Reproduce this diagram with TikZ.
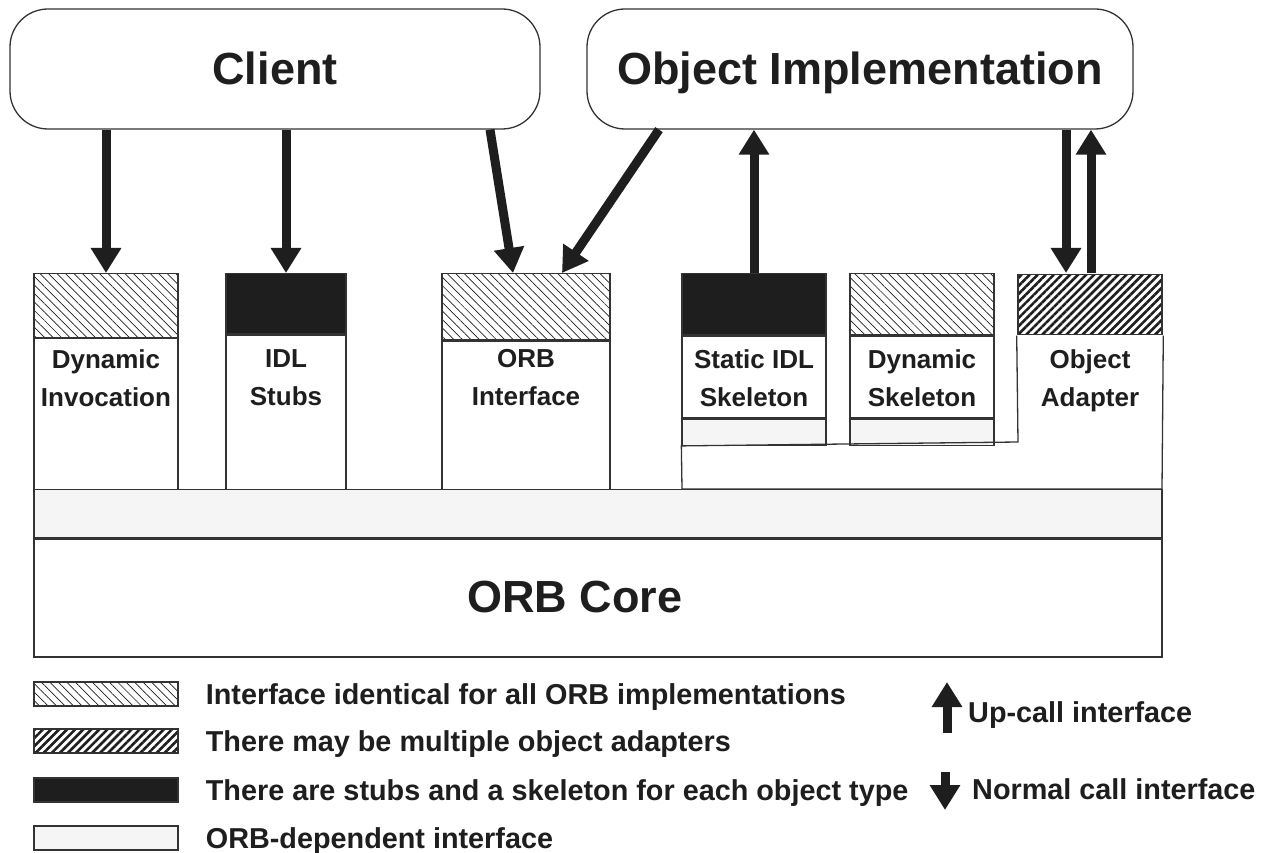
\documentclass[tikz,border=0pt]{standalone}
\usepackage{fontspec}
\setmainfont{Liberation Sans}
\usetikzlibrary{arrows.meta,patterns.meta}
\definecolor{ink}{HTML}{1E1E1E}
\definecolor{edge}{HTML}{333333}
\definecolor{orbdep}{HTML}{F5F5F5}

\tikzset{
  part/.style={draw=edge,line width=1.3pt,rectangle,inner sep=0pt,anchor=north},
  interfacefill/.style={pattern={Lines[angle=-45,distance=6pt,line width=0.7pt]},pattern color=ink},
  adapterfill/.style={pattern={Lines[angle=45,distance=5.7pt,line width=2.6pt]},pattern color=ink},
  stubfill/.style={fill=ink},
  orbfill/.style={fill=orbdep},
  bigtext/.style={text=ink,font=\fontsize{45}{45}\selectfont\bfseries,text height=32pt,text depth=0pt},
  party/.style={draw=edge,line width=1.3pt,rounded corners=38pt,inner sep=0pt,bigtext},
  partlabel/.style={anchor=north,inner sep=0pt,align=center,text=ink,
    font=\fontsize{26}{38}\selectfont\bfseries},
  legendtext/.style={anchor=west,inner sep=0pt,text=ink,text height=20pt,text depth=0pt,
    font=\fontsize{28.8}{30}\selectfont\bfseries},
  call/.style={line width=9pt,draw=ink,-{Triangle[width=29pt,length=25pt]}},
}

\begin{document}
\begin{tikzpicture}[x=1pt,y=-1pt]
\fill[white] (0,0) rectangle (1272,853);
\useasboundingbox (0,0) rectangle (1272,853);

\node[party,minimum width=530pt,minimum height=120pt] (client) at (275,69) {Client};
\node[party,minimum width=546pt,minimum height=120pt] (impl) at (860,69) {Object Implementation};

% client side
\node[part,interfacefill,minimum width=144pt,minimum height=64pt] (dinvhead) at (106,273) {};
\node[part,minimum width=144pt,minimum height=152pt] (dinv) at (dinvhead.south) {};
\node[partlabel] (dinvtext) at (106,349) {Dynamic\\Invocation};

\node[part,stubfill,minimum width=120pt,minimum height=60pt] (stubhead) at (286,273) {};
\node[part,minimum width=120pt,minimum height=156pt] (stub) at (stubhead.south) {};
\node[partlabel] (stubtext) at (286,349) {IDL\\Stubs};

\node[part,interfacefill,minimum width=168pt,minimum height=66pt] (orbhead) at (526,273) {};
\node[part,minimum width=168pt,minimum height=150pt] (orbi) at (orbhead.south) {};
\node[partlabel] (orbitext) at (526,349) {ORB\\Interface};

% implementation side
\node[part,stubfill,minimum width=144pt,minimum height=61pt] (skelhead) at (754,273) {};
\node[part,minimum width=144pt,minimum height=82pt] (skel) at (skelhead.south) {};
\node[part,orbfill,minimum width=144pt,minimum height=26pt] (skelfoot) at (skel.south) {};
\node[partlabel] (skeltext) at (754,349) {Static IDL\\Skeleton};

\node[part,interfacefill,minimum width=144pt,minimum height=61pt] (dskelhead) at (922,273) {};
\node[part,minimum width=144pt,minimum height=82pt] (dskel) at (dskelhead.south) {};
\node[part,orbfill,minimum width=144pt,minimum height=26pt] (dskelfoot) at (dskel.south) {};
\node[partlabel] (dskeltext) at (922,349) {Dynamic\\Skeleton};

\node[part,adapterfill,minimum width=144pt,minimum height=60pt] (oahead) at (1090,273) {};
\draw[draw=edge,line width=1.3pt] (oahead.south west) -- (1018,442) -- (skelfoot.south west)
  -- (682,489) -- (1162,489) -- (oahead.south east);
\node[partlabel] (oatext) at (1090,349) {Object\\Adapter};

\node[part,orbfill,minimum width=1128pt,minimum height=48pt] (orbdep) at (598,489) {};
\node[part,minimum width=1128pt,minimum height=118pt] (core) at (orbdep.south) {};
\node[bigtext] (coretext) at (575,596) {ORB Core};

% calls
\draw[call] (106,0 |- client.south) -- (dinvhead.north);
\draw[call] (286,0 |- client.south) -- (stubhead.north);
\draw[call] (490,0 |- client.south) -- (513,0 |- orbhead.north);
\draw[call] (659,0 |- impl.south) -- (562,0 |- orbhead.north);
\draw[call] (skelhead.north) -- (754,0 |- impl.south);
\draw[call] (1066,0 |- impl.south) -- (1066,0 |- oahead.north);
\draw[call] (1091,0 |- oahead.north) -- (1091,0 |- impl.south);

% legend
\node[part,interfacefill,anchor=center,minimum width=144pt,minimum height=24pt] (keyiface) at (106,694) {};
\node[legendtext] (keyifacetext) at ([xshift=27pt]keyiface.east) {Interface identical for all ORB implementations};
\node[part,adapterfill,anchor=center,minimum width=144pt,minimum height=24pt] (keyadapt) at (106,741) {};
\node[legendtext] (keyadapttext) at ([xshift=27pt]keyadapt.east) {There may be multiple object adapters};
\node[part,stubfill,anchor=center,minimum width=144pt,minimum height=24pt] (keystub) at (106,790) {};
\node[legendtext] (keystubtext) at ([xshift=27pt]keystub.east) {There are stubs and a skeleton for each object type};
\node[part,orbfill,anchor=center,minimum width=144pt,minimum height=24pt] (keyorb) at (106,838) {};
\node[legendtext] (keyorbtext) at ([xshift=27pt]keyorb.east) {ORB-dependent interface};

\coordinate (uptail) at (947,733);
\coordinate (uphead) at (947,682);
\draw[call] (uptail) -- (uphead);
\node[legendtext] (upnote) at (968,712) {Up-call interface};
\coordinate (downtail) at (945,772);
\coordinate (downhead) at (945,810);
\draw[call] (downtail) -- (downhead);
\node[legendtext] (downnote) at (972,789) {Normal call interface};
\end{tikzpicture}
\end{document}
